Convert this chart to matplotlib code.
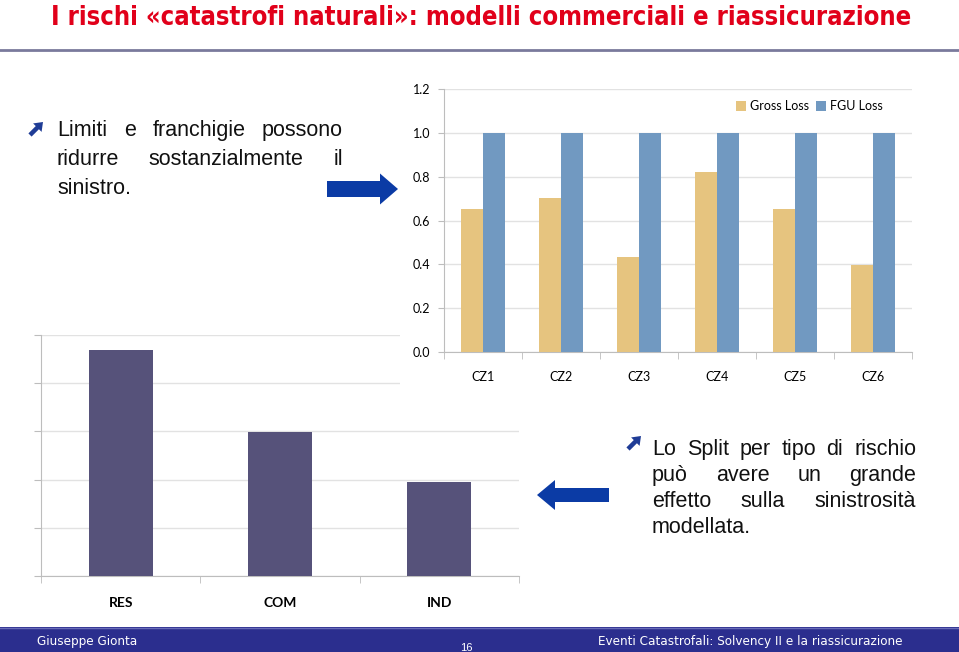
import numpy as np
import matplotlib
matplotlib.use('Agg')
import matplotlib.pyplot as plt
from matplotlib.patches import FancyArrow, Rectangle
from matplotlib import font_manager

# data
zone = ['CZ1', 'CZ2', 'CZ3', 'CZ4', 'CZ5', 'CZ6']
gross_loss = [0.653, 0.703, 0.434, 0.822, 0.653, 0.397]
fgu_loss = [1.0, 1.0, 1.0, 1.0, 1.0, 1.0]

rischio = ['RES', 'COM', 'IND']
split_val = [4.69, 2.98, 1.94]

titolo = 'I rischi «catastrofi naturali»: modelli commerciali e riassicurazione'
bullet1 = ['Limiti e franchigie possono', 'ridurre sostanzialmente il', 'sinistro.']
bullet2 = ['Lo Split per tipo di rischio', 'può avere un grande',
           'effetto sulla sinistrosità', 'modellata.']
footer_sx = 'Giuseppe Gionta'
footer_dx = 'Eventi Catastrofali: Solvency II e la riassicurazione'
pagina = '16'

W, H = 959, 652
fig = plt.figure(figsize=(W / 100, H / 100), dpi=100)

def box(x0, y0, x1, y1):
    return [x0 / W, 1 - y1 / H, (x1 - x0) / W, (y1 - y0) / H]

chart_font = ['Lato', 'DejaVu Sans']
body_font = ['Liberation Sans', 'DejaVu Sans']

# font stretto per titolo e piè di pagina (se c'è un condensed)
fp = font_manager.FontProperties(family='DejaVu Sans', stretch='condensed', weight='bold')
has_cond = 'Condensed' in font_manager.findfont(fp, fallback_to_default=True)
if has_cond:
    title_kw = dict(family=['DejaVu Sans'], stretch='condensed', fontweight='bold', fontsize=18.4)
    foot_kw = dict(family=['DejaVu Sans'], stretch='condensed', fontsize=9.6)
else:
    title_kw = dict(family=body_font, fontweight='bold', fontsize=19.5)
    foot_kw = dict(family=body_font, fontsize=9.8)

grid_c = '#E2E2E2'
axis_c = '#BDBDBD'
blu = '#0B3BA5'

# sfondo / decorazioni in coordinate pixel
bg = fig.add_axes([0, 0, 1, 1], zorder=0)
bg.set_xlim(0, W)
bg.set_ylim(H, 0)
bg.axis('off')

bg.text(481, 25, titolo, ha='center', va='baseline', color='#E1001A', **title_kw)
bg.plot([0, W], [50, 50], color='#7A7A9C', lw=2)
bg.add_patch(Rectangle((0, 627), W, 25, color='#2B2E8E', lw=0))
bg.plot([0, W], [627.5, 627.5], color='#6A6CB8', lw=1)
bg.text(37, 645, footer_sx, ha='left', va='baseline', color='white', **foot_kw)
bg.text(903, 645, footer_dx, ha='right', va='baseline', color='white', **foot_kw)
bg.text(466, 651, pagina, ha='center', va='baseline', fontsize=8,
        color='white', family=body_font)

# grafico inferiore: split per tipo di rischio
ax2 = fig.add_axes(box(41, 335, 519, 576), zorder=1)
x2 = np.arange(len(rischio))
ax2.bar(x2, split_val, width=0.4, color='#56527A', zorder=3)
ax2.set_xlim(-0.5, len(rischio) - 0.5)
ax2.set_ylim(0, 5)
ax2.set_yticks(np.arange(0, 6))
ax2.set_yticklabels([])
ax2.yaxis.grid(True, color=grid_c, lw=1)
ax2.set_axisbelow(True)
ax2.set_xticks(x2)
ax2.set_xticklabels(rischio, fontsize=10, fontweight='bold', family=chart_font)
ax2.set_xticks(np.arange(-0.5, len(rischio)), minor=True)
ax2.tick_params(axis='x', which='major', length=0, pad=15)
ax2.tick_params(axis='x', which='minor', length=5, color=axis_c, direction='out')
ax2.tick_params(axis='y', length=5, color=axis_c)
for s in ['top', 'right']:
    ax2.spines[s].set_visible(False)
for s in ['left', 'bottom']:
    ax2.spines[s].set_color(axis_c)

# riquadro bianco del grafico superiore
cover = fig.add_axes(box(400, 62, 935, 402), zorder=2)
cover.axis('off')
cover.add_patch(Rectangle((0, 0), 1, 1, transform=cover.transAxes,
                          color='white', lw=0))

# grafico superiore: Gross vs FGU
ax1 = fig.add_axes(box(444, 89, 912, 352), zorder=3)
ax1.patch.set_alpha(0)
x1 = np.arange(len(zone))
bw = 0.28
ax1.bar(x1 - bw / 2, gross_loss, width=bw, color='#E6C47F', label='Gross Loss', zorder=3)
ax1.bar(x1 + bw / 2, fgu_loss, width=bw, color='#7199C1', label='FGU Loss', zorder=3)
ax1.set_xlim(-0.5, len(zone) - 0.5)
ax1.set_ylim(0, 1.2)
ax1.set_yticks(np.arange(0, 1.21, 0.2))
ax1.set_yticklabels(['%.1f' % v for v in np.arange(0, 1.21, 0.2)],
                    fontsize=9, family=chart_font)
ax1.yaxis.grid(True, color=grid_c, lw=1)
ax1.set_axisbelow(True)
ax1.set_xticks(x1)
ax1.set_xticklabels(zone, fontsize=9, family=chart_font)
ax1.set_xticks(np.arange(-0.5, len(zone)), minor=True)
ax1.tick_params(axis='x', which='major', length=0, pad=14)
ax1.tick_params(axis='x', which='minor', length=5, color=axis_c)
ax1.tick_params(axis='y', length=4, color=axis_c, pad=6)
for s in ['top', 'right']:
    ax1.spines[s].set_visible(False)
for s in ['left', 'bottom']:
    ax1.spines[s].set_color(axis_c)
ax1.legend(loc='center right', bbox_to_anchor=(0.962, 0.935), ncol=2,
           frameon=False, handlelength=0.8, handleheight=0.8,
           handletextpad=0.3, columnspacing=0.6,
           prop={'family': chart_font, 'size': 9})

# testo e frecce in primo piano
fg = fig.add_axes([0, 0, 1, 1], zorder=5)
fg.set_xlim(0, W)
fg.set_ylim(H, 0)
fg.axis('off')
fg.patch.set_alpha(0)

renderer = fig.canvas.get_renderer()

def justify(lines, x0, x1, y0, step, size):
    for i, line in enumerate(lines):
        y = y0 + i * step
        words = line.split()
        texts = [fg.text(0, y, w, va='baseline', ha='left', fontsize=size,
                         color='#111111', family=body_font) for w in words]
        widths = [t.get_window_extent(renderer).width for t in texts]
        if i == len(lines) - 1 or len(words) == 1:
            gap = 5
        else:
            gap = (x1 - x0 - sum(widths)) / (len(words) - 1)
        x = x0
        for t, w in zip(texts, widths):
            t.set_x(x)
            x += w + gap

justify(bullet1, 57, 343, 136, 29, 15.5)
justify(bullet2, 652, 916, 455, 26, 15.5)

# punti elenco (freccette oblique)
for bx, by in [(30, 135), (628, 449)]:
    fg.add_patch(FancyArrow(bx, by, 13, -13, width=4.5, head_width=12,
                            head_length=8, length_includes_head=True,
                            color='#1F3C96', lw=0))

fg.add_patch(FancyArrow(327, 189, 71, 0, width=16, head_width=31,
                        head_length=18, length_includes_head=True,
                        color=blu, lw=0))
fg.add_patch(FancyArrow(609, 495, -72, 0, width=14, head_width=30,
                        head_length=18, length_includes_head=True,
                        color=blu, lw=0))

fig.savefig('out.png', dpi=100)
